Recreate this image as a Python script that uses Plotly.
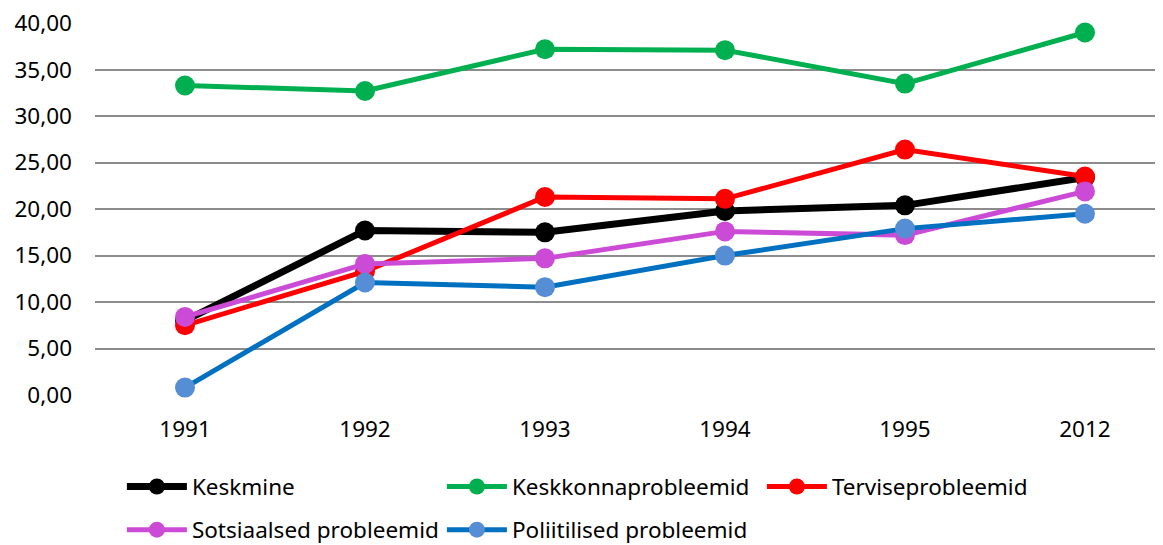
import plotly.graph_objects as go

years = ["1991", "1992", "1993", "1994", "1995", "2012"]
keskmine = [8.0, 17.7, 17.5, 19.8, 20.4, 23.4]
keskkonna = [33.3, 32.7, 37.2, 37.1, 33.5, 39.0]
tervise = [7.5, 13.3, 21.3, 21.1, 26.4, 23.5]
sotsiaalsed = [8.4, 14.1, 14.7, 17.6, 17.2, 21.9]
poliitilised = [0.8, 12.1, 11.6, 15.0, 17.9, 19.5]

series = [
    ("Keskmine", keskmine, "#000000", "#000000", 7, "legend"),
    ("Keskkonnaprobleemid", keskkonna, "#00B050", "#00B050", 5, "legend"),
    ("Terviseprobleemid", tervise, "#FF0000", "#FF0000", 5, "legend"),
    ("Sotsiaalsed probleemid", sotsiaalsed, "#CC4BD6", "#CC4BD6", 5, "legend2"),
    ("Poliitilised probleemid", poliitilised, "#0070C0", "#558ED5", 5, "legend2"),
]

FONT = "Noto Sans"
FS = 22.5

fig = go.Figure()
for name, vals, lc, mc, lw, lg in series:
    fig.add_trace(go.Scatter(
        x=years, y=vals, name=name, mode="lines+markers",
        line=dict(color=lc, width=lw),
        marker=dict(color=mc, size=20),
        cliponaxis=False, legend=lg,
    ))

leg_common = dict(
    orientation="h", xref="paper", x=0.025, yanchor="middle",
    entrywidth=245, itemwidth=60, tracegroupgap=0,
    font=dict(family=FONT, size=FS, color="#000000"),
    bgcolor="rgba(0,0,0,0)",
)

fig.update_layout(
    width=1163, height=545,
    margin=dict(l=87, r=0, t=15, b=158, autoexpand=False),
    plot_bgcolor="white", paper_bgcolor="white",
    separators=", ",
    font=dict(family=FONT, size=FS, color="#000000"),
    showlegend=True,
    legend=dict(y=-0.247, **leg_common),
    legend2=dict(y=-0.363, **leg_common),
    xaxis=dict(
        type="category", range=[-0.5, 5.478], showgrid=False,
        showline=False, zeroline=False, ticks="",
        ticklabelstandoff=18,
        tickfont=dict(family=FONT, size=FS),
    ),
    yaxis=dict(
        range=[0, 40.02], tickmode="linear", tick0=0, dtick=5, tickformat=".2f",
        showgrid=True, gridcolor="#8C8C8C", gridwidth=1.7,
        zeroline=False, showline=False, ticks="",
        ticklabelstandoff=22, ticklabeloverflow="allow",
        tickfont=dict(family=FONT, size=FS),
    ),
)

fig.write_html("out.html")
